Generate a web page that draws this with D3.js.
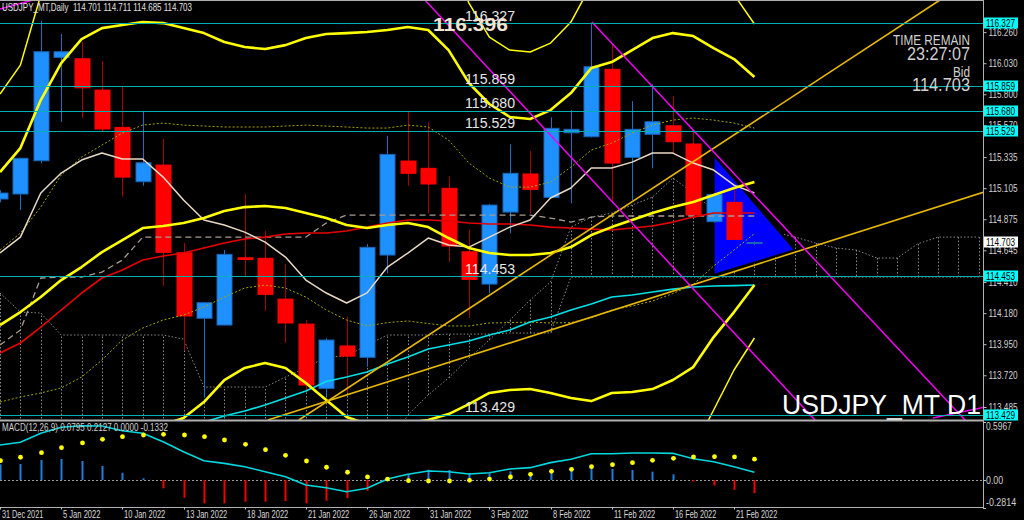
<!DOCTYPE html>
<html><head><meta charset="utf-8">
<script src="https://cdn.jsdelivr.net/npm/d3@7"></script>
<style>body{margin:0;background:#000;overflow:hidden}svg{display:block}</style>
</head><body><svg id="c" width="1024" height="520"></svg>
<script>
// ---------------- DATA ----------------
const barDates = ["2021-12-31","2022-01-03","2022-01-04","2022-01-05","2022-01-06","2022-01-07","2022-01-10","2022-01-11","2022-01-12","2022-01-13","2022-01-14","2022-01-17","2022-01-18","2022-01-19","2022-01-20","2022-01-21","2022-01-24","2022-01-25","2022-01-26","2022-01-27","2022-01-28","2022-01-31","2022-02-01","2022-02-02","2022-02-03","2022-02-04","2022-02-07","2022-02-08","2022-02-09","2022-02-10","2022-02-11","2022-02-14","2022-02-15","2022-02-16","2022-02-17","2022-02-18","2022-02-21","2022-02-22"];
const open  = [115.025,115.062,115.308,116.073,116.063,115.831,115.555,115.153,115.276,114.627,114.142,114.092,114.590,114.586,114.284,114.099,113.623,113.937,113.853,114.610,115.306,115.252,115.104,114.634,114.395,114.928,115.210,115.037,115.515,115.486,115.985,115.333,115.504,115.567,115.432,114.857,115.000,114.701];
const high  = [115.090,115.330,116.344,116.246,116.187,116.046,115.854,115.678,115.469,114.701,114.260,114.647,115.062,114.788,114.543,114.129,113.994,114.153,114.692,115.493,115.678,115.592,115.190,114.800,114.988,115.430,115.380,115.629,115.683,116.330,116.177,115.750,115.874,115.787,115.535,115.070,115.104,114.711];
const low   = [115.000,114.943,115.289,115.595,115.624,115.528,115.042,115.123,114.383,113.907,113.560,114.090,114.455,114.198,113.959,113.596,113.566,113.589,113.783,114.475,115.123,114.919,114.560,114.144,114.327,114.771,114.919,115.037,114.993,115.480,115.000,115.017,115.252,115.363,114.900,114.850,114.720,114.685];
const close = [115.069,115.326,116.115,116.115,115.848,115.543,115.187,115.293,114.630,114.159,114.257,114.615,114.577,114.319,114.107,113.648,113.981,113.862,114.667,115.355,115.215,115.136,114.677,114.430,114.980,115.215,115.096,115.548,115.541,116.004,115.291,115.541,115.597,115.449,114.906,115.059,114.726,114.703];

const maShort = [114.625,114.743,115.069,115.217,115.313,115.365,115.321,115.321,115.187,115.017,114.869,114.832,114.780,114.706,114.595,114.425,114.329,114.255,114.330,114.521,114.625,114.736,114.684,114.669,114.743,114.817,114.869,115.032,115.106,115.254,115.254,115.298,115.365,115.365,115.291,115.239,115.128,115.069];
const maMid   = [113.885,113.959,114.077,114.203,114.329,114.440,114.499,114.573,114.603,114.625,114.662,114.699,114.729,114.743,114.766,114.773,114.773,114.788,114.817,114.847,114.869,114.869,114.862,114.847,114.840,114.840,114.832,114.817,114.810,114.802,114.795,114.810,114.825,114.854,114.891,114.921,114.921,114.921];
const maLong  = [113.050,113.080,113.110,113.140,113.170,113.200,113.230,113.260,113.290,113.330,113.374,113.418,113.455,113.500,113.552,113.603,113.674,113.707,113.744,113.803,113.855,113.914,113.944,113.974,114.018,114.055,114.114,114.151,114.203,114.247,114.299,114.314,114.336,114.358,114.373,114.381,114.384,114.388];

const bbUpper2 = [115.224,115.402,115.757,116.031,116.209,116.290,116.313,116.335,116.327,116.290,116.253,116.187,116.150,116.135,116.164,116.216,116.246,116.253,116.261,116.276,116.298,116.276,116.127,115.883,115.728,115.632,115.617,115.683,115.809,115.994,116.039,116.127,116.216,116.253,116.231,116.142,116.061,115.928];
const bbMiddle = [114.092,114.188,114.299,114.425,114.521,114.632,114.721,114.810,114.825,114.847,114.884,114.936,114.965,114.973,114.958,114.921,114.884,114.832,114.810,114.832,114.847,114.817,114.736,114.662,114.625,114.610,114.610,114.625,114.669,114.758,114.817,114.869,114.921,114.965,115.002,115.054,115.106,115.150];
const bbLower2 = [112.959,112.974,112.841,112.819,112.834,112.974,113.130,113.285,113.352,113.404,113.522,113.685,113.774,113.811,113.774,113.663,113.537,113.411,113.359,113.359,113.367,113.389,113.433,113.507,113.589,113.611,113.618,113.589,113.552,113.529,113.589,113.596,113.618,113.685,113.781,114.003,114.188,114.388];
const bbUpper3 = [115.802,116.016,116.535,116.834,117.053,117.119,117.108,117.097,117.079,117.012,116.938,116.812,116.742,116.716,116.768,116.864,116.927,116.964,116.986,116.997,117.023,117.005,116.823,116.475,116.224,116.127,116.113,116.179,116.335,116.612,116.649,116.757,116.864,116.897,116.845,116.686,116.538,116.320];
const bbLower3 = [112.393,112.367,112.112,112.016,111.990,112.145,112.334,112.523,112.615,112.719,112.841,113.059,113.178,113.230,113.108,113.033,112.863,112.700,112.634,112.623,112.626,112.674,112.782,112.930,113.070,113.111,113.122,113.070,112.993,112.915,112.974,112.959,112.967,113.045,113.170,113.463,113.759,113.996];
const bbUpper1 = [114.647,114.773,114.965,115.202,115.335,115.424,115.513,115.572,115.587,115.572,115.565,115.558,115.558,115.558,115.565,115.572,115.565,115.558,115.550,115.550,115.572,115.558,115.461,115.291,115.180,115.113,115.113,115.150,115.261,115.387,115.439,115.513,115.572,115.609,115.624,115.609,115.587,115.550];
const bbLower1 = [113.522,113.559,113.589,113.626,113.707,113.833,113.981,114.070,114.129,114.166,114.225,114.299,114.366,114.388,114.366,114.299,114.203,114.129,114.085,114.110,114.122,114.103,114.085,114.085,114.107,114.110,114.114,114.107,114.110,114.144,114.203,114.233,114.270,114.325,114.392,114.529,114.647,114.769];

const kijun = [113.944,114.055,114.440,114.447,114.447,114.484,114.573,114.743,114.743,114.743,114.743,114.743,114.743,114.743,114.743,114.743,114.847,114.906,114.906,114.906,114.906,114.906,114.906,114.906,114.906,114.906,114.906,114.884,114.854,114.891,114.899,114.899,114.899,114.899,114.899,114.899,114.899,114.899];
const spanA = [113.167,113.167,113.167,113.167,113.167,113.167,113.167,113.167,113.167,113.167,113.167,113.167,113.167,113.167,113.167,113.167,113.167,113.167,113.167,113.167,113.426,113.574,113.700,113.848,113.981,114.129,114.277,114.410,114.817,114.891,114.921,114.980,115.039,115.180,115.069,114.943,114.847,114.810,114.780,114.743,114.699,114.662,114.647,114.588,114.588,114.692,114.743,114.743,114.743];
const spanB = [114.329,114.188,114.181,114.018,114.018,114.018,114.018,114.018,114.018,113.988,113.633,113.633,113.633,113.633,113.707,113.774,113.855,113.862,113.944,114.018,114.018,114.018,114.025,114.025,114.025,114.033,114.033,114.033,114.447,114.447,114.447,114.447,114.447,114.447,114.447,114.447,114.447,114.447,114.447,114.447,114.447,114.447,114.447,114.447,114.447,114.447,114.447,114.447,114.447];

const macdLine   = [0.357,0.385,0.477,0.538,0.554,0.551,0.503,0.477,0.391,0.289,0.197,0.170,0.136,0.085,0.034,-0.051,-0.079,-0.119,-0.085,0.010,0.058,0.092,0.085,0.061,0.074,0.112,0.126,0.177,0.211,0.268,0.268,0.276,0.276,0.272,0.217,0.187,0.136,0.0795];
const macdSignal = [0.197,0.232,0.279,0.330,0.378,0.415,0.442,0.459,0.466,0.459,0.442,0.408,0.364,0.309,0.252,0.194,0.130,0.079,0.031,0.010,-0.007,-0.010,-0.010,-0.003,0.010,0.031,0.058,0.089,0.109,0.136,0.156,0.177,0.201,0.221,0.235,0.238,0.235,0.2127];
const macdHist   = [0.160,0.163,0.204,0.214,0.194,0.143,0.074,0.017,-0.085,-0.181,-0.238,-0.238,-0.221,-0.221,-0.214,-0.238,-0.211,-0.186,-0.109,0.000,0.062,0.105,0.102,0.068,0.068,0.088,0.072,0.095,0.115,0.143,0.112,0.102,0.085,0.058,-0.015,-0.056,-0.100,-0.1332];

const levelPrices = [116.327,115.859,115.680,115.529,114.453,113.429];
const levelLabels = ["116.327","115.859","115.680","115.529","114.453","113.429"];
const priceTicks = [116.260,116.030,115.800,115.570,115.335,115.105,114.875,114.645,114.410,114.180,113.950,113.720,113.485];
const macdTicks = [0.5967,0.0,-0.2814];
const macdTickLabels = ["0.5967","0.00","-0.2814"];
const dateTickIdx = [0,3,6,9,12,15,18,21,24,27,30,33,36];
const dateTickLabels = ["31 Dec 2021","5 Jan 2022","10 Jan 2022","13 Jan 2022","18 Jan 2022","21 Jan 2022","26 Jan 2022","31 Jan 2022","3 Feb 2022","8 Feb 2022","11 Feb 2022","16 Feb 2022","21 Feb 2022"];

// trend lines as (bar index, price) pairs
const magentaLines = [[[20.84,116.498],[39.97,113.389]],[[29.03,116.335],[47.33,113.389]],[[-0.5,116.411],[1.62,116.498]],[[45.76,113.404],[48.4,113.487]]];
const goldLines = [[[14.66,113.389],[46.10,116.498]],[[13.14,113.389],[48.4,115.083]]];
const triangle = [[35,115.350],[35,114.462],[39,114.647]];
const bidPrice = 114.703;
const titleText = "USDJPY_MT,Daily  114.701 114.711 114.685 114.703";
const macdTitle = "MACD(12,26,9) 0.0795 0.2127 0.0000 -0.1332";

// ---------------- DRAW ----------------
const svg = d3.select("#c");
const PR = 983, MB = 420;
svg.append("rect").attr("width",1024).attr("height",520).attr("fill","#000");
const x  = d3.scaleLinear().domain([0,48.21]).range([0,PR]);
const y  = d3.scaleLinear().domain([113.389,116.498]).range([MB,0]);
const ym = d3.scaleLinear().domain([-0.2814,0.5967]).range([507.6,421.5]);

const defs = svg.append("defs");
defs.append("clipPath").attr("id","cm").append("rect").attr("x",0).attr("y",0).attr("width",PR).attr("height",MB);
defs.append("clipPath").attr("id","cd").append("rect").attr("x",0).attr("y",421.5).attr("width",PR).attr("height",86);

const g = svg.append("g").attr("clip-path","url(#cm)");
const line = d3.line().x((d,i)=>x(i)).y(d=>y(d));
const seg = d3.line().x(d=>x(d[0])).y(d=>y(d[1]));

// Ichimoku cloud hatch
g.append("g").selectAll("line").data(spanA).join("line")
  .attr("x1",(d,i)=>Math.round(x(i))+0.5).attr("x2",(d,i)=>Math.round(x(i))+0.5)
  .attr("y1",d=>y(d)).attr("y2",(d,i)=>y(spanB[i]))
  .attr("stroke","#8a8a8a").attr("stroke-width",1).attr("stroke-dasharray","1.5,2");
[spanA,spanB].forEach(s=>g.append("path").attr("d",line(s)).attr("fill","none")
  .attr("stroke","#8a8a8a").attr("stroke-width",1).attr("stroke-dasharray","1.5,2"));

// triangle object
g.append("path").attr("d",seg(triangle)+"Z").attr("fill","#0000ff").attr("stroke","#000").attr("stroke-width",2);

// candles
const cg = g.append("g");
const bw = 15;
barDates.forEach((dt,i)=>{
  const bull = close[i] >= open[i];
  const wc = bull ? "#1f6fc0" : "#a80000";
  const cx = Math.round(x(i))+0.5;
  cg.append("line").attr("x1",cx).attr("x2",cx).attr("y1",y(high[i])).attr("y2",y(low[i]))
    .attr("stroke",wc).attr("stroke-width",1);
  const top = y(Math.max(open[i],close[i])), bot = y(Math.min(open[i],close[i]));
  cg.append("rect").attr("x",cx-bw/2).attr("y",top).attr("width",bw).attr("height",Math.max(1,bot-top))
    .attr("fill",bull ? "#1e90ff" : "#ff0000").attr("stroke",bull ? "#1a66b8" : "#ff0000").attr("stroke-width",1);
});

// indicator lines
function drawLine(arr,color,w,dash){
  const p = g.append("path").attr("d",line(arr)).attr("fill","none").attr("stroke",color).attr("stroke-width",w).attr("stroke-linejoin","round");
  if(dash) p.attr("stroke-dasharray",dash);
}
drawLine(bbUpper1,"#a6a600",1,"2,2");
drawLine(bbLower1,"#a6a600",1,"2,2");
drawLine(kijun,"#a89c90",1.3,"6,4");
drawLine(maLong,"#00e0e8",1.6);
drawLine(maMid,"#e80000",1.6);
drawLine(maShort,"#e8d8c4",1.5);
drawLine(bbUpper3,"#ffff00",1.5);
drawLine(bbLower3,"#ffff00",1.5);
drawLine(bbUpper2,"#ffff00",2.6);
drawLine(bbMiddle,"#ffff00",2.6);
drawLine(bbLower2,"#ffff00",2.6);

// trend lines
goldLines.forEach(s=>g.append("path").attr("d",seg(s)).attr("stroke","#e8b800").attr("stroke-width",1.6).attr("fill","none"));
magentaLines.forEach(s=>g.append("path").attr("d",seg(s)).attr("stroke","#f000f0").attr("stroke-width",1.5).attr("fill","none"));

// horizontal levels
g.append("g").selectAll("line").data(levelPrices).join("line")
  .attr("x1",0).attr("x2",PR).attr("y1",d=>Math.round(y(d))+0.5).attr("y2",d=>Math.round(y(d))+0.5)
  .attr("stroke","#00b0b0").attr("stroke-width",1);
g.append("g").selectAll("text").data(levelPrices).join("text")
  .attr("x",465).attr("y",d=>y(d)-2.5).text((d,i)=>levelLabels[i])
  .attr("font-family","Liberation Sans, Arial, sans-serif").attr("font-size",15)
  .attr("fill","#e6e6e6").attr("textLength",50).attr("lengthAdjust","spacingAndGlyphs");

// high label
g.append("text").attr("x",433).attr("y",31).text("116.396")
  .attr("font-family","Liberation Sans, Arial, sans-serif").attr("font-weight","bold").attr("font-size",18)
  .attr("fill","#f2e4d4").attr("textLength",75).attr("lengthAdjust","spacingAndGlyphs");

// info text
const nf = "Liberation Sans Narrow, Liberation Sans, Arial, sans-serif";
function rtext(t,xx,yy,fs,len,col){
  svg.append("text").attr("x",xx).attr("y",yy).attr("text-anchor","end").text(t)
   .attr("font-family",nf).attr("font-size",fs).attr("fill",col||"#d0d0d0")
   .attr("textLength",len).attr("lengthAdjust","spacingAndGlyphs");
}
rtext("TIME REMAIN",970,44.5,15,77);
rtext("23:27:07",970,59.5,18,63);
rtext("Bid",970,76.5,15,17);
rtext("114.703",970,91,18,58);
rtext("USDJPY_MT D1",981,413.5,28,199,"#ffffff");

svg.append("text").attr("x",2).attr("y",11).text(titleText)
  .attr("font-family","Liberation Sans, Arial, sans-serif").attr("font-size",10.5).attr("fill","#e0e0e0")
  .attr("textLength",190).attr("lengthAdjust","spacingAndGlyphs").attr("xml:space","preserve");

// ---------------- MACD panel ----------------
const m = svg.append("g").attr("clip-path","url(#cd)");
m.append("line").attr("x1",0).attr("x2",PR).attr("y1",Math.round(ym(0))+0.5).attr("y2",Math.round(ym(0))+0.5)
  .attr("stroke","#9a9a9a").attr("stroke-dasharray","2,2");
m.append("g").selectAll("rect").data(macdHist).join("rect")
  .attr("x",(d,i)=>Math.round(x(i))-0.5).attr("width",2)
  .attr("y",d=>Math.min(ym(d),ym(0))).attr("height",d=>Math.abs(ym(d)-ym(0)))
  .attr("fill",d=>d>=0?"#1f7fd8":"#f00000");
m.append("path").attr("d",d3.line().x((d,i)=>x(i)).y(d=>ym(d))(macdLine))
  .attr("fill","none").attr("stroke","#00d8e0").attr("stroke-width",1.6);
m.append("g").selectAll("circle").data(macdSignal).join("circle")
  .attr("cx",(d,i)=>Math.round(x(i))+0.5).attr("cy",d=>ym(d)).attr("r",2.4).attr("fill","#ffff00");
svg.append("text").attr("x",2).attr("y",431).text(macdTitle)
  .attr("font-family","Liberation Sans, Arial, sans-serif").attr("font-size",10).attr("fill","#d0d0d0")
  .attr("textLength",166).attr("lengthAdjust","spacingAndGlyphs");

// ---------------- frames ----------------
svg.append("line").attr("x1",0).attr("x2",PR).attr("y1",0.5).attr("y2",0.5).attr("stroke","#b0b0b0");
svg.append("line").attr("x1",0).attr("x2",PR).attr("y1",420.5).attr("y2",420.5).attr("stroke","#b0b0b0").attr("stroke-width",2);
svg.append("line").attr("x1",0).attr("x2",PR).attr("y1",507.5).attr("y2",507.5).attr("stroke","#b0b0b0");
svg.append("line").attr("x1",PR+0.5).attr("x2",PR+0.5).attr("y1",0).attr("y2",508).attr("stroke","#b0b0b0");

// price axis
const af = "Liberation Sans, Arial, sans-serif";
const ax = svg.append("g").attr("transform",`translate(${PR+0.5},0)`)
  .call(d3.axisRight(y).tickValues(priceTicks).tickFormat(d3.format(".3f")).tickSize(3).tickPadding(2));
ax.select(".domain").remove();
ax.selectAll("line").attr("stroke","#c0c0c0");
ax.selectAll("text").attr("fill","#d0d0d0").attr("font-family",af).attr("font-size",10)
  .attr("textLength",29).attr("lengthAdjust","spacingAndGlyphs");

// level boxes on axis
const lb = svg.append("g");
levelPrices.forEach((p,i)=>{
  const yy = Math.round(y(p));
  lb.append("rect").attr("x",984).attr("y",yy-5.5).attr("width",34).attr("height",11).attr("fill","#00ffff");
  lb.append("text").attr("x",986).attr("y",yy+4).text(levelLabels[i]).attr("font-family",af).attr("font-size",10)
    .attr("fill","#000").attr("textLength",29).attr("lengthAdjust","spacingAndGlyphs");
});
{
  const yy = Math.round(y(bidPrice));
  lb.append("rect").attr("x",984).attr("y",yy-5.5).attr("width",34).attr("height",11).attr("fill","#ffffff");
  lb.append("text").attr("x",986).attr("y",yy+4).text(d3.format(".3f")(bidPrice)).attr("font-family",af).attr("font-size",10)
    .attr("fill","#000").attr("textLength",29).attr("lengthAdjust","spacingAndGlyphs");
}

// macd axis labels
macdTicks.forEach((v,i)=>{
  let yy = ym(v);
  if(i===0) yy += 5; if(i===2) yy -= 5;
  svg.append("line").attr("x1",PR).attr("x2",PR+3).attr("y1",Math.round(ym(v))+0.5).attr("y2",Math.round(ym(v))+0.5).attr("stroke","#c0c0c0");
  svg.append("text").attr("x",PR+3).attr("y",yy+3.5).text(macdTickLabels[i]).attr("font-family",af).attr("font-size",10)
    .attr("fill","#d0d0d0").attr("textLength",macdTickLabels[i].length*4.3).attr("lengthAdjust","spacingAndGlyphs");
});

// date axis
dateTickIdx.forEach((idx,k)=>{
  const xx = Math.round(x(idx))+0.5;
  svg.append("line").attr("x1",xx).attr("x2",xx).attr("y1",507).attr("y2",509.5).attr("stroke","#c0c0c0");
  svg.append("text").attr("x",Math.round(x(idx))+2).attr("y",517.5).text(dateTickLabels[k]).attr("font-family",af).attr("font-size",10)
    .attr("fill","#d8d8d8").attr("textLength",dateTickLabels[k].length*3.75).attr("lengthAdjust","spacingAndGlyphs");
});
</script></body></html>
